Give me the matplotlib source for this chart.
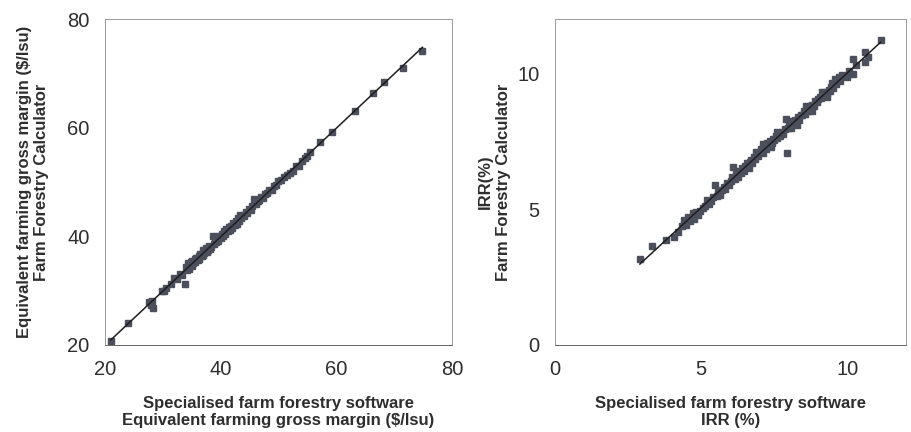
import numpy as np
import matplotlib
matplotlib.use('Agg')
import matplotlib.pyplot as plt

plt.rcParams['font.family'] = ['Liberation Sans', 'DejaVu Sans']

# ---------------- DATA ----------------
# left panel: equivalent farming gross margin ($/lsu)
gm_spec = [21.0, 24.0, 27.6, 27.9, 28.1, 28.3, 29.8, 30.2, 30.6, 31.4,
           31.9, 32.5, 33.0, 33.4, 33.8, 34.0, 34.2, 34.3, 34.5, 34.6,
           34.8, 35.0, 35.1, 35.3, 35.5, 35.6, 35.8, 36.0, 36.2, 36.3,
           36.5, 36.7, 36.9, 37.0, 37.2, 37.4, 37.6, 37.8, 38.0, 38.2,
           38.4, 38.6, 38.8, 39.0, 39.2, 39.4, 39.6, 39.8, 40.0, 40.2,
           40.4, 40.6, 40.8, 41.0, 41.2, 41.4, 41.6, 41.8, 42.0, 42.2,
           42.4, 42.6, 42.8, 43.0, 43.2, 43.4, 43.6, 43.8, 44.0, 44.3,
           44.6, 44.9, 45.2, 45.5, 45.8, 46.1, 46.4, 46.7, 47.0, 47.3,
           47.6, 48.0, 48.4, 48.8, 49.2, 49.6, 50.0, 50.5, 51.0, 51.5,
           52.0, 52.5, 53.0, 53.5, 54.0, 54.5, 55.0, 55.5, 57.2, 59.3,
           63.3, 66.3, 68.2, 71.6, 74.9]
gm_calc = [20.8, 24.1, 28.0, 27.3, 28.1, 26.9, 29.9, 30.0, 30.5, 31.2,
           32.3, 32.2, 33.1, 32.8, 31.2, 34.3, 33.8, 35.0, 34.4, 33.9,
           35.2, 34.6, 35.4, 35.0, 35.8, 35.2, 36.1, 35.6, 36.4, 35.9,
           36.8, 36.3, 37.4, 36.6, 37.0, 37.8, 37.2, 37.5, 38.3, 37.7,
           38.1, 40.0, 38.6, 39.3, 38.9, 39.8, 39.2, 40.1, 39.7, 40.4,
           40.0, 41.0, 40.5, 41.3, 40.9, 41.7, 41.2, 41.9, 41.6, 42.5,
           42.0, 42.8, 42.3, 43.4, 42.9, 44.0, 43.3, 43.9, 43.7, 44.5,
           44.3, 45.1, 44.9, 45.6, 46.8, 46.0, 46.5, 46.6, 47.2, 47.0,
           47.8, 47.9, 48.6, 48.5, 49.3, 49.4, 50.2, 50.3, 50.9, 51.2,
           51.6, 52.0, 52.9, 53.0, 53.8, 54.4, 54.7, 55.6, 57.3, 59.2,
           63.1, 66.4, 68.4, 71.0, 74.2]

# right panel: IRR (%)
irr_spec = [2.90, 3.33, 3.80, 4.05, 4.20, 4.33, 4.40, 4.48, 4.55, 4.62,
            4.70, 4.76, 4.82, 4.90, 4.97, 5.05, 5.12, 5.20, 5.26, 5.33,
            5.40, 5.47, 5.52, 5.58, 5.64, 5.70, 5.76, 5.82, 5.87, 5.93,
            6.00, 6.05, 6.10, 6.15, 6.20, 6.25, 6.30, 6.35, 6.40, 6.45,
            6.50, 6.55, 6.60, 6.65, 6.70, 6.75, 6.80, 6.85, 6.90, 6.95,
            7.00, 7.05, 7.10, 7.15, 7.20, 7.25, 7.30, 7.35, 7.40, 7.45,
            7.50, 7.55, 7.60, 7.65, 7.70, 7.75, 7.80, 7.85, 7.90, 7.92,
            7.95, 8.00, 8.05, 8.10, 8.15, 8.20, 8.25, 8.30, 8.35, 8.40,
            8.45, 8.50, 8.55, 8.60, 8.65, 8.70, 8.75, 8.80, 8.85, 8.90,
            8.95, 9.00, 9.05, 9.10, 9.15, 9.20, 9.25, 9.30, 9.35, 9.40,
            9.45, 9.50, 9.57, 9.62, 9.70, 9.75, 9.82, 9.90, 9.97, 10.05,
            10.20, 10.20, 10.30, 10.60, 10.60, 10.70, 11.13,
            6.62, 6.88, 7.12, 7.38, 7.58, 8.02, 8.28, 8.58, 8.78, 9.12,
            9.28, 9.48]
irr_calc = [3.15, 3.65, 3.85, 3.97, 4.15, 4.38, 4.60, 4.42, 4.70, 4.55,
            4.85, 4.62, 4.90, 4.78, 4.95, 5.05, 5.12, 5.35, 5.20, 5.30,
            5.45, 5.90, 5.50, 5.62, 5.52, 5.70, 5.82, 5.75, 5.95, 5.88,
            6.05, 6.20, 6.56, 6.12, 6.30, 6.18, 6.40, 6.32, 6.50, 6.42,
            6.58, 6.70, 6.62, 6.75, 6.80, 6.70, 6.92, 6.85, 7.00, 6.95,
            7.10, 7.20, 7.05, 7.30, 7.22, 7.45, 7.35, 7.50, 7.42, 7.60,
            7.55, 7.70, 7.62, 7.75, 7.68, 7.85, 7.78, 7.95, 8.31, 7.06,
            8.00, 8.10, 7.98, 8.20, 8.12, 8.30, 8.22, 8.38, 8.30, 8.48,
            8.45, 8.60, 8.52, 8.68, 8.60, 8.78, 8.72, 8.85, 8.80, 9.00,
            8.95, 9.05, 9.12, 9.08, 9.22, 9.15, 9.30, 9.25, 9.40, 9.35,
            9.50, 9.45, 9.78, 9.60, 9.85, 9.72, 9.95, 9.90, 9.88, 10.10,
            9.97, 10.52, 10.30, 10.80, 10.43, 10.60, 11.23,
            6.50, 7.10, 7.40, 7.30, 7.85, 8.25, 8.10, 8.80, 8.62, 9.30,
            9.12, 9.65]

gm_ticks = [20, 40, 60, 80]
irr_ticks = [0, 5, 10]

TEXT = '#2e2e2e'
DOT = '#4b505c'


def panel(ax, xs, ys, lim, ticks, xlabel, ylabel, ypad):
    xs = np.array(xs)
    ys = np.array(ys)
    ax.plot(xs, ys, 's', ms=4.3, color=DOT, mec=DOT, zorder=2)

    # linear trend line across the data range
    k, b = np.polyfit(xs, ys, 1)
    xl = np.array([xs.min(), xs.max()])
    ax.plot(xl, k * xl + b, color='#1e1e1e', lw=1.1, zorder=3)

    ax.set_xlim(lim)
    ax.set_ylim(lim)
    ax.set_xticks(ticks)
    ax.set_yticks(ticks)
    ax.tick_params(length=0, labelsize=14.5, labelcolor=TEXT, pad=11)
    for s in ax.spines.values():
        s.set_color('#9a9a9a')
        s.set_linewidth(0.7)
        s.set_linestyle((0, (3, 1)))
    ax.spines['bottom'].set_color('#666666')
    ax.set_xlabel(xlabel, fontsize=12, fontweight='bold', color=TEXT,
                  labelpad=12, linespacing=1.2)
    ax.set_ylabel(ylabel, fontsize=12, fontweight='bold', color=TEXT,
                  labelpad=ypad, linespacing=1.2)


fig = plt.figure(figsize=(9.12, 4.32), dpi=100)
ax1 = fig.add_axes([0.1151, 0.2014, 0.3805, 0.7546])
ax2 = fig.add_axes([0.6086, 0.2014, 0.3849, 0.7546])

panel(ax1, gm_spec, gm_calc, (20, 80), gm_ticks,
      'Specialised farm forestry software\nEquivalent farming gross margin ($/lsu)',
      'Equivalent farming gross margin ($/lsu)\nFarm Forestry Calculator', 13)
panel(ax2, irr_spec, irr_calc, (0, 12), irr_ticks,
      'Specialised farm forestry software\nIRR (%)',
      'IRR(%)\nFarm Forestry Calculator', 5)

fig.savefig('out.png', dpi=100)
